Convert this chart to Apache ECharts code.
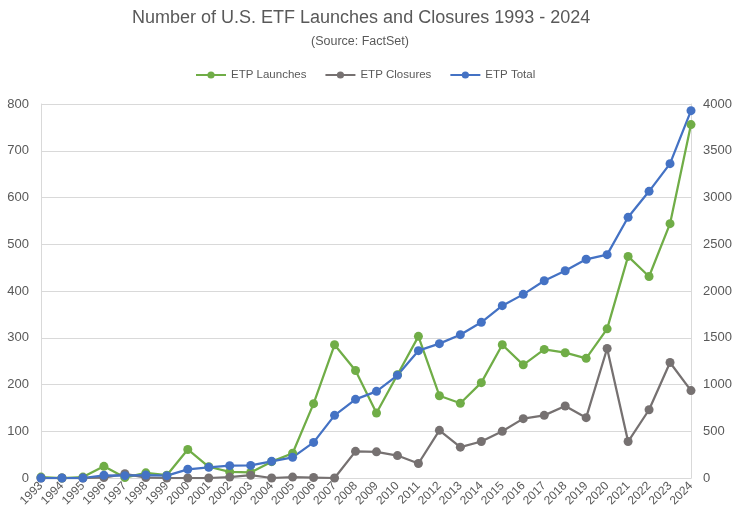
<!DOCTYPE html>
<html>
<head>
<meta charset="utf-8">
<script src="https://cdn.jsdelivr.net/npm/echarts@6/dist/echarts.min.js"></script>
<style>
    html, body { margin: 0; padding: 0; background: #fff; }
    #chart { width: 745px; height: 529px; }
</style>
</head>
<body>
<div id="chart"></div>
<script>
// years on the x axis
var years = ['1993', '1994', '1995', '1996', '1997', '1998', '1999', '2000', '2001', '2002',
    '2003', '2004', '2005', '2006', '2007', '2008', '2009', '2010', '2011', '2012', '2013',
    '2014', '2015', '2016', '2017', '2018', '2019', '2020', '2021', '2022', '2023', '2024'];

// left axis
var launches = [2, 0, 2, 25, 1, 11, 6, 61, 24, 13, 12, 35, 53, 159, 285, 230, 139,
    221, 303, 176, 160, 204, 285, 242, 275, 268, 256, 319, 474, 431, 544, 756];
var closures = [0, 0, 0, 1, 9, 1, 0, 0, 0, 2, 6, 0, 2, 1, 0, 57, 56,
    48, 31, 102, 66, 78, 100, 127, 134, 154, 129, 277, 78, 146, 247, 187];

// right axis
var total = [0, 0, 0, 29, 25, 32, 25, 93, 114, 132, 135, 178, 221, 381, 670, 841, 927,
    1098, 1362, 1437, 1533, 1665, 1843, 1964, 2110, 2217, 2339, 2389, 2788, 3066, 3362, 3929];

var leftTicks = { min: 0, max: 800, interval: 100 };
var rightTicks = { min: 0, max: 4000, interval: 500 };

var font = 'Liberation Sans';
var textColor = '#595959';
var gridColor = '#d9d9d9';

function lineSeries(name, data, color, axis) {
    return {
        name: name,
        type: 'line',
        yAxisIndex: axis,
        data: data,
        symbol: 'circle',
        symbolSize: 9,
        lineStyle: { width: 2.25, color: color },
        itemStyle: { color: color },
        emphasis: { disabled: true }
    };
}

function plain(v) {
    return String(v);
}

var chart = echarts.init(document.getElementById('chart'));
chart.setOption({
    animation: false,
    backgroundColor: '#fff',
    title: [{
        text: 'Number of U.S. ETF Launches and Closures 1993 - 2024',
        left: 127,
        top: 4,
        textStyle: { fontFamily: font, fontSize: 18, fontWeight: 'normal', color: textColor }
    }, {
        text: '(Source: FactSet)',
        left: 306,
        top: 30,
        textStyle: { fontFamily: font, fontSize: 12.5, fontWeight: 'normal', color: textColor }
    }],
    legend: {
        top: 64,
        left: 190,
        itemGap: 18,
        itemWidth: 30,
        itemHeight: 9,
        textStyle: { fontFamily: font, fontSize: 11.5, color: textColor },
        data: ['ETP Launches', 'ETP Closures', 'ETP Total']
    },
    grid: { left: 41, right: 54, top: 104, bottom: 51 },
    xAxis: {
        type: 'category',
        data: years,
        boundaryGap: false,
        axisLine: { lineStyle: { color: gridColor } },
        axisTick: { show: false },
        axisLabel: {
            rotate: 45,
            interval: 0,
            margin: 6,
            fontFamily: font,
            fontSize: 12,
            color: textColor
        }
    },
    yAxis: [{
        type: 'value',
        min: leftTicks.min,
        max: leftTicks.max,
        interval: leftTicks.interval,
        axisLine: { show: true, lineStyle: { color: gridColor } },
        axisTick: { show: false },
        splitLine: { lineStyle: { color: gridColor } },
        axisLabel: { fontFamily: font, fontSize: 13, color: textColor, margin: 12, formatter: plain }
    }, {
        type: 'value',
        min: rightTicks.min,
        max: rightTicks.max,
        interval: rightTicks.interval,
        axisLine: { show: true, lineStyle: { color: gridColor } },
        axisTick: { show: false },
        splitLine: { show: false },
        axisLabel: { fontFamily: font, fontSize: 13, color: textColor, margin: 12, formatter: plain }
    }],
    series: [
        lineSeries('ETP Launches', launches, '#70ad47', 0),
        lineSeries('ETP Closures', closures, '#767171', 0),
        lineSeries('ETP Total', total, '#4472c4', 1)
    ]
});
</script>
</body>
</html>
